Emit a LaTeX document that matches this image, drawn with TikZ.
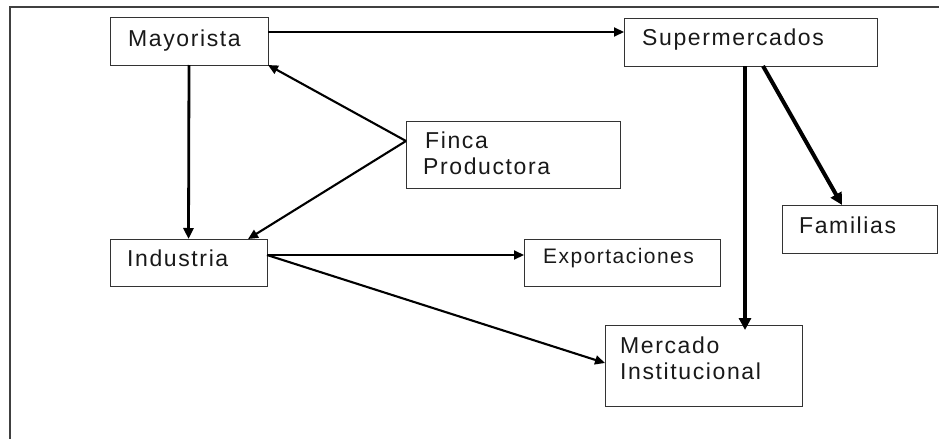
\documentclass[tikz,border=0pt]{standalone}
\usepackage{fontspec}
\setmainfont{Liberation Sans}[LetterSpace=7]
\usetikzlibrary{arrows.meta}
\begin{document}
\begin{tikzpicture}[x=1pt,y=-1pt,
  box/.style={draw=black!80,line width=1pt,anchor=north west,inner sep=0pt,outer sep=0pt},
  lbl/.style={anchor=base west,inner sep=0pt,font=\fontsize{23}{27}\selectfont,text=black!90},
  arr/.style={line width=2.1pt,-{Triangle[length=10pt,width=9pt]}},
  midarr/.style={line width=2.8pt,-{Triangle[length=11pt,width=10pt]}},
  thickarr/.style={line width=4pt,-{Triangle[length=12pt,width=12pt]}},
  frame/.style={draw=black!75,line width=1.5pt}]
\useasboundingbox (0,0) rectangle (939,439);
\fill[white] (0,0) rectangle (939,439);
% outer frame (top and left lines)
\coordinate (fTL) at (10,7);
\coordinate (fTR) at (939,7);
\coordinate (fBL) at (10,439);
\draw[frame] (fTR) -- (fTL) -- (fBL);
% boxes
\node[box,minimum width=158pt,minimum height=48pt] (may) at (110,17) {};
\node[box,minimum width=253pt,minimum height=48pt] (sup) at (624,18) {};
\node[box,minimum width=214pt,minimum height=67pt] (fin) at (406,121) {};
\node[box,minimum width=155pt,minimum height=48pt] (fam) at (782,205) {};
\node[box,minimum width=157pt,minimum height=47pt] (ind) at (110,239) {};
\node[box,minimum width=196pt,minimum height=47pt] (exp) at (524,239) {};
\node[box,minimum width=197pt,minimum height=81pt] (mer) at (605,325) {};
% labels
\node[lbl] (mayT) at (128,46) {Mayorista};
\node[lbl] (supT) at (642,45) {Supermercados};
\node[lbl] (finT1) at (425,148) {Finca};
\node[lbl] (finT2) at (423,174) {Productora};
\node[lbl] (famT) at (799,233) {Familias};
\node[lbl] (indT) at (127,266) {Industria};
\node[lbl,font=\fontsize{21}{25}\selectfont] (expT) at (543,263) {Exportaciones};
\node[lbl] (merT1) at (620,353) {Mercado};
\node[lbl] (merT2) at (620,379) {Institucional};
% connectors
\draw[arr] ([yshift=-15pt]may.north east) -- ([yshift=-14pt]sup.north west);
\draw[midarr] (may.south) -- (ind.north);
\draw[arr] ([yshift=-20pt]fin.north west) -- (may.south east);
\draw[arr] ([yshift=-20pt]fin.north west) -- ([xshift=-19pt]ind.north east);
\draw[arr] ([yshift=-16pt]ind.north east) -- ([yshift=-16pt]exp.north west);
\draw[arr] ([yshift=-16pt]ind.north east) -- ([yshift=-38pt]mer.north west);
\draw[thickarr] ([xshift=121pt]sup.south west) -- ([xshift=140pt,yshift=-5pt]mer.north west);
\draw[thickarr] ([xshift=139pt]sup.south west) -- ([xshift=60pt]fam.north west);
\end{tikzpicture}
\end{document}
